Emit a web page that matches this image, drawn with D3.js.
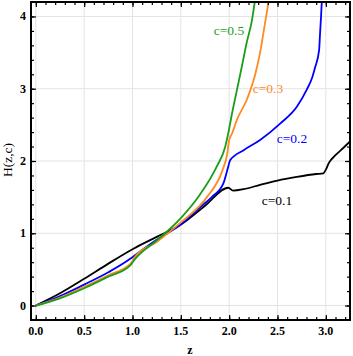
<!DOCTYPE html>
<html>
<head>
<meta charset="utf-8">
<script src="https://cdn.jsdelivr.net/npm/d3@7"></script>
<style>
  body { margin: 0; background: #fff; }
  svg { display: block; }
  .tick-label { font-family: "Liberation Serif", "Times New Roman", serif; font-weight: bold; font-size: 12px; }
  .curve-label { font-family: "Liberation Serif", "Times New Roman", serif; font-size: 13.5px; }
</style>
</head>
<body>
<svg id="chart" width="353" height="356"></svg>
<script>
// values
var blackZ  = [0, 0.25, 0.5, 0.75, 1.0, 1.25, 1.5, 1.75, 1.99, 2.04, 2.15, 2.32, 2.5, 2.7, 2.9, 2.975, 3.0, 3.03, 3.1, 3.18, 3.25];
var blackH  = [0, 0.17, 0.37, 0.58, 0.78, 0.95, 1.12, 1.38, 1.63, 1.59, 1.61, 1.67, 1.73, 1.78, 1.82, 1.83, 1.88, 1.97, 2.08, 2.18, 2.27];

var blueZ   = [0, 0.25, 0.5, 0.75, 0.98, 1.03, 1.25, 1.5, 1.7, 1.82, 1.94, 1.99, 2.01, 2.15, 2.32, 2.53, 2.7, 2.8, 2.86, 2.89, 2.93, 2.94, 2.95, 2.96];
var blueH   = [0, 0.13, 0.29, 0.46, 0.65, 0.70, 0.91, 1.12, 1.36, 1.50, 1.69, 1.92, 2.01, 2.15, 2.29, 2.52, 2.75, 2.98, 3.16, 3.30, 3.53, 3.76, 3.99, 4.25];

var orangeZ = [0, 0.25, 0.5, 0.75, 0.98, 1.03, 1.25, 1.5, 1.77, 1.93, 1.98, 2.0, 2.03, 2.08, 2.18, 2.27, 2.32, 2.37, 2.42];
var orangeH = [0, 0.11, 0.26, 0.42, 0.58, 0.68, 0.88, 1.15, 1.50, 1.87, 2.10, 2.29, 2.38, 2.57, 2.84, 3.20, 3.50, 3.90, 4.30];

var greenZ  = [0, 0.25, 0.5, 0.75, 0.98, 1.03, 1.25, 1.5, 1.7, 1.87, 1.96, 1.99, 2.03, 2.08, 2.13, 2.18, 2.236, 2.27];
var greenH  = [0, 0.10, 0.24, 0.40, 0.56, 0.65, 0.90, 1.21, 1.54, 1.92, 2.20, 2.38, 2.66, 2.98, 3.30, 3.63, 3.95, 4.25];

var xTicks = [0, 0.5, 1.0, 1.5, 2.0, 2.5, 3.0];
var yTicks = [0, 1, 2, 3, 4];

var series = [
  { name: 'c=0.1', z: blackZ,  h: blackH,  color: '#000000', lx: 277, ly: 205 },
  { name: 'c=0.2', z: blueZ,   h: blueH,   color: '#0000ff', lx: 292, ly: 143 },
  { name: 'c=0.3', z: orangeZ, h: orangeH, color: '#ff8a1e', lx: 268, ly: 93 },
  { name: 'c=0.5', z: greenZ,  h: greenH,  color: '#1a9e1a', lx: 229, ly: 35 }
];

(function() {
  var plotLeft = 31, plotRight = 350, plotTop = 2, plotBottom = 320;
  var svg = d3.select('#chart');

  var x = d3.scaleLinear().domain([-0.05, 3.25]).range([plotLeft, plotRight]);
  var y = d3.scaleLinear().domain([-0.2, 4.2]).range([plotBottom, plotTop]);

  // grid
  var grid = svg.append('g').attr('stroke', '#e3e3e3').attr('stroke-width', 1);
  xTicks.forEach(function(t) {
    grid.append('line').attr('x1', x(t)).attr('x2', x(t)).attr('y1', plotTop).attr('y2', plotBottom);
  });
  yTicks.forEach(function(t) {
    grid.append('line').attr('x1', plotLeft).attr('x2', plotRight).attr('y1', y(t)).attr('y2', y(t));
  });

  // curves
  svg.append('clipPath').attr('id', 'plot-clip')
    .append('rect').attr('x', plotLeft).attr('y', plotTop)
    .attr('width', plotRight - plotLeft).attr('height', plotBottom - plotTop);

  var line = d3.line()
    .x(function(d) { return x(d[0]); })
    .y(function(d) { return y(d[1]); })
    .curve(d3.curveMonotoneX);

  var curves = svg.append('g').attr('clip-path', 'url(#plot-clip)');
  series.forEach(function(s) {
    var pts = s.z.map(function(z, i) { return [z, s.h[i]]; });
    curves.append('path').datum(pts)
      .attr('d', line)
      .attr('fill', 'none')
      .attr('stroke', s.color)
      .attr('stroke-width', 1.8)
      .attr('stroke-linejoin', 'round');
    svg.append('text').attr('class', 'curve-label')
      .attr('x', s.lx).attr('y', s.ly)
      .attr('text-anchor', 'middle')
      .attr('fill', s.color)
      .text(s.name);
  });

  // frame with inward ticks on all four sides
  var frame = svg.append('g');
  function axisSet(axisFn, scale, ticks, size, transform) {
    frame.append('g').attr('transform', transform)
      .call(axisFn(scale).tickValues(ticks).tickSize(size).tickFormat(''))
      .call(function(g) {
        g.select('.domain').remove();
        g.selectAll('line').attr('stroke', '#000').attr('stroke-width', 1.2);
      });
  }
  var xMinor = d3.range(0, 3.25, 0.1).map(function(v) { return +v.toFixed(2); });
  var yMinor = d3.range(0, 4.2, 0.2).map(function(v) { return +v.toFixed(2); });

  axisSet(d3.axisTop, x, xTicks, 5, 'translate(0,' + plotBottom + ')');
  axisSet(d3.axisTop, x, xMinor, 3, 'translate(0,' + plotBottom + ')');
  axisSet(d3.axisBottom, x, xTicks, 5, 'translate(0,' + plotTop + ')');
  axisSet(d3.axisBottom, x, xMinor, 3, 'translate(0,' + plotTop + ')');
  axisSet(d3.axisRight, y, yTicks, 5, 'translate(' + plotLeft + ',0)');
  axisSet(d3.axisRight, y, yMinor, 3, 'translate(' + plotLeft + ',0)');
  axisSet(d3.axisLeft, y, yTicks, 5, 'translate(' + plotRight + ',0)');
  axisSet(d3.axisLeft, y, yMinor, 3, 'translate(' + plotRight + ',0)');

  frame.append('rect')
    .attr('x', plotLeft).attr('y', plotTop)
    .attr('width', plotRight - plotLeft).attr('height', plotBottom - plotTop)
    .attr('fill', 'none').attr('stroke', '#000').attr('stroke-width', 2);

  // tick labels
  svg.append('g').selectAll('text').data(xTicks).join('text')
    .attr('class', 'tick-label')
    .attr('x', function(d) { return x(d); })
    .attr('y', 335)
    .attr('text-anchor', 'middle')
    .text(function(d) { return d.toFixed(1); });

  svg.append('g').selectAll('text').data(yTicks).join('text')
    .attr('class', 'tick-label')
    .attr('x', 26)
    .attr('y', function(d) { return y(d) + 4; })
    .attr('text-anchor', 'end')
    .text(function(d) { return d; });

  // axis titles
  svg.append('text').attr('class', 'tick-label')
    .attr('x', 190).attr('y', 354).attr('text-anchor', 'middle').text('z');

  svg.append('text').attr('class', 'curve-label')
    .attr('transform', 'translate(12,160) rotate(-90)')
    .attr('text-anchor', 'middle').text('H(z,c)');
})();
</script>
</body>
</html>
